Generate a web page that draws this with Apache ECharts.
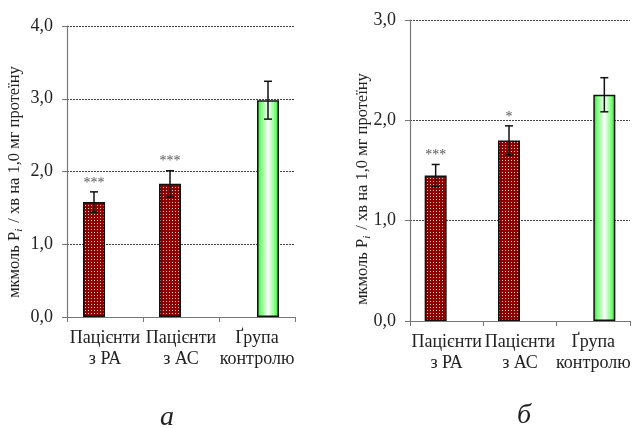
<!DOCTYPE html>
<html><head><meta charset="utf-8">
<script src="https://cdn.jsdelivr.net/npm/echarts@6/dist/echarts.min.js"></script>
<style>html,body{margin:0;padding:0;background:#fff}#c{width:636px;height:428px}</style>
</head><body><div id="c"></div>
<script>
// ---- data ----
const categories = ['Пацієнти\nз РА', 'Пацієнти\nз АС', 'Ґрупа\nконтролю'];
const yTicksA = [0, 1, 2, 3, 4];
const yTicksB = [0, 1, 2, 3];
// panel a
const patientsA = [1.58, 1.83, null];
const patientsErrA = [0.14, 0.18, null];
const controlA = [null, null, 2.98];
const controlErrA = [null, null, 0.26];
const sigA = ['***', '***', ''];
// panel б
const patientsB = [1.45, 1.80, null];
const patientsErrB = [0.11, 0.145, null];
const controlB = [null, null, 2.255];
const controlErrB = [null, null, 0.17];
const sigB = ['***', '*', ''];
const panelLabels = ['а', 'б'];
const yTitleParts = ['мкмоль P', 'i', ' / хв на 1,0 мг протеїну'];

// ---- style ----
const FONT = '"Liberation Serif", "DejaVu Serif", serif';
const BAR_W = 22;

function makePattern() {
  const c = document.createElement('canvas');
  c.width = 3; c.height = 3;
  const g = c.getContext('2d');
  g.fillStyle = '#8e0000'; g.fillRect(0, 0, 3, 3);
  g.fillStyle = '#f4d0d0'; g.fillRect(1, 1, 1, 1);
  return c;
}
const redFill = { image: makePattern(), repeat: 'repeat' };
const greenFill = new echarts.graphic.LinearGradient(0, 0, 1, 0, [
  { offset: 0, color: '#22c822' },
  { offset: 0.15, color: '#6cff6c' },
  { offset: 0.5, color: '#ffffff' },
  { offset: 0.85, color: '#6cff6c' },
  { offset: 1, color: '#22c822' }
]);

function toData(arr) { return arr.map(v => v == null ? '-' : v); }
function errData(vals, errs, sig) {
  const out = [];
  vals.forEach((v, i) => { if (v != null) out.push([i, v, errs[i], sig ? sig[i] : '']); });
  return out;
}
function errSeries(idx, data, sign) {
  return {
    type: 'custom', xAxisIndex: idx, yAxisIndex: idx, z: 5,
    data: data,
    renderItem: function (params, api) {
      const i = api.value(0), v = api.value(1), e = api.value(2);
      const sig = data[params.dataIndex][3];
      const top = api.coord([i, v + e]);
      const bot = api.coord([i, v - e]);
      const x = top[0] + sign * BAR_W / 2;
      const cap = 4;
      const st = { stroke: '#111', lineWidth: 1.5 };
      const children = [
        { type: 'line', shape: { x1: x, y1: top[1], x2: x, y2: bot[1] }, style: st },
        { type: 'line', shape: { x1: x - cap, y1: top[1], x2: x + cap, y2: top[1] }, style: st },
        { type: 'line', shape: { x1: x - cap, y1: bot[1], x2: x + cap, y2: bot[1] }, style: st }
      ];
      if (sig) {
        children.push({ type: 'text', x: x, y: top[1] - 2,
          style: { text: sig, fill: '#555', font: '14px ' + FONT, align: 'center', verticalAlign: 'bottom' } });
      }
      return { type: 'group', children: children };
    }
  };
}

function yAxisCfg(idx, ticks) {
  return {
    gridIndex: idx, type: 'value', min: ticks[0], max: ticks[ticks.length - 1], interval: 1,
    axisLine: { show: true, lineStyle: { color: '#777', width: 1.2 } },
    axisTick: { show: true, length: 5, lineStyle: { color: '#777' } },
    axisLabel: { margin: 14, color: '#222', fontFamily: FONT, fontSize: 18,
      formatter: v => v.toFixed(1).replace('.', ',') },
    splitLine: { show: true, lineStyle: { color: '#444', type: [2, 1], width: 1 } }
  };
}
function xAxisCfg(idx) {
  return {
    gridIndex: idx, type: 'category', data: categories,
    axisLine: { show: true, lineStyle: { color: '#777', width: 1.2 } },
    axisTick: { show: true, length: 5, lineStyle: { color: '#777' } },
    axisLabel: { margin: 11, color: '#222', fontFamily: FONT, fontSize: 18, lineHeight: 21, interval: 0 }
  };
}
function barSeries(idx, vals, fill, last) {
  const s = {
    type: 'bar', xAxisIndex: idx, yAxisIndex: idx, data: toData(vals), barWidth: BAR_W,
    itemStyle: { color: fill, borderColor: '#111', borderWidth: 1.5 }, silent: true
  };
  if (last) s.barGap = '0%';
  return s;
}
function titleText(x, y) {
  return {
    type: 'text', x: x, y: y, rotation: Math.PI / 2,
    style: {
      text: '{t|' + yTitleParts[0] + '}{s|' + yTitleParts[1] + '}{t|' + yTitleParts[2] + '}',
      align: 'center', verticalAlign: 'middle',
      rich: {
        t: { fontFamily: FONT, fontSize: 16.5, fill: '#222', color: '#222', lineHeight: 19 },
        s: { fontFamily: FONT, fontSize: 11, fontStyle: 'italic', fill: '#222', color: '#222', lineHeight: 19, padding: [8, 2, 0, 0] }
      }
    }
  };
}

const chart = echarts.init(document.getElementById('c'), null, { renderer: 'canvas' });
chart.setOption({
  animation: false,
  backgroundColor: '#fff',
  grid: [
    { left: 67, top: 26, width: 228, height: 291 },
    { left: 410, top: 20, width: 220, height: 301 }
  ],
  xAxis: [xAxisCfg(0), xAxisCfg(1)],
  yAxis: [yAxisCfg(0, yTicksA), yAxisCfg(1, yTicksB)],
  series: [
    barSeries(0, patientsA, redFill, false),
    barSeries(0, controlA, greenFill, true),
    errSeries(0, errData(patientsA, patientsErrA, sigA), -1),
    errSeries(0, errData(controlA, controlErrA, null), 1),
    barSeries(1, patientsB, redFill, false),
    barSeries(1, controlB, greenFill, true),
    errSeries(1, errData(patientsB, patientsErrB, sigB), -1),
    errSeries(1, errData(controlB, controlErrB, null), 1)
  ],
  graphic: [
    titleText(15, 182),
    titleText(363, 189),
    { type: 'text', x: 167, y: 418, style: { text: panelLabels[0], font: 'italic 28px ' + FONT, fill: '#222', align: 'center', verticalAlign: 'middle' } },
    { type: 'text', x: 524, y: 416, style: { text: panelLabels[1], font: 'italic 28px ' + FONT, fill: '#222', align: 'center', verticalAlign: 'middle' } }
  ]
});
</script></body></html>
